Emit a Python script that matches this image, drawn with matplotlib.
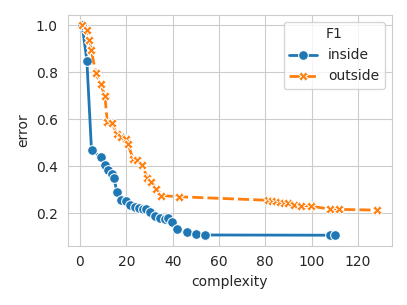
import matplotlib
matplotlib.use("Agg")
import matplotlib.pyplot as plt
import seaborn as sns
import pandas as pd

# F1 = inside
inside_x = [1, 3, 5, 9, 11, 12, 13.7, 14.7, 16, 17.7, 19.8, 21.8, 23.8, 25.5,
            27.4, 28.5, 30.3, 32.4, 34.6, 36.7, 38.2, 39.9, 42, 46, 50, 54, 108, 110]
inside_y = [1.0, 0.85, 0.468, 0.44, 0.407, 0.386, 0.369, 0.348, 0.29, 0.255,
            0.251, 0.234, 0.227, 0.22, 0.217, 0.217, 0.203, 0.19, 0.18, 0.177,
            0.18, 0.163, 0.133, 0.119, 0.112, 0.107, 0.106, 0.106]

# F1 = outside
outside_x = [1, 3, 4.1, 4.9, 6.8, 9, 10.8, 11.8, 14, 15.9, 17.7, 19.9, 20.9,
             22.8, 24.8, 26.9, 29.1, 30.8, 33, 35, 42.8, 81, 82.8, 84.6,
             86.4, 88.2, 90, 92.2, 95.4, 99.6, 108, 112, 128.2]
outside_y = [1.0, 0.98, 0.94, 0.897, 0.797, 0.752, 0.698, 0.589, 0.584, 0.537,
             0.525, 0.516, 0.493, 0.433, 0.428, 0.407, 0.348, 0.333, 0.302,
             0.275, 0.27, 0.255, 0.252, 0.25, 0.247, 0.245, 0.242, 0.234,
             0.232, 0.23, 0.217, 0.216, 0.213]

df = pd.concat([
    pd.DataFrame({"complexity": inside_x, "error": inside_y, "F1": "inside"}),
    pd.DataFrame({"complexity": outside_x, "error": outside_y, "F1": "outside"}),
])

sns.set_style("whitegrid")
plt.rcParams["font.family"] = ["DejaVu Sans"]
plt.rcParams["font.size"] = 10

fig = plt.figure(figsize=(4.07, 3.05), dpi=100)
ax = fig.add_axes([67.5 / 407, 1 - 245.7 / 305, (391.7 - 67.5) / 407, (245.7 - 15) / 305])
sns.lineplot(data=df, x="complexity", y="error", hue="F1", style="F1",
             markers=["o", "X"], dashes=["", (4, 1.5)], ax=ax, sort=False,
             linewidth=2, markersize=7)
ax.set_yticks([0.2, 0.4, 0.6, 0.8, 1.0])
ax.set_xticks([0, 20, 40, 60, 80, 100, 120])
leg = ax.legend(title="F1", loc="upper right", fontsize=10, title_fontsize=10)

fig.savefig("out.png", dpi=100)
